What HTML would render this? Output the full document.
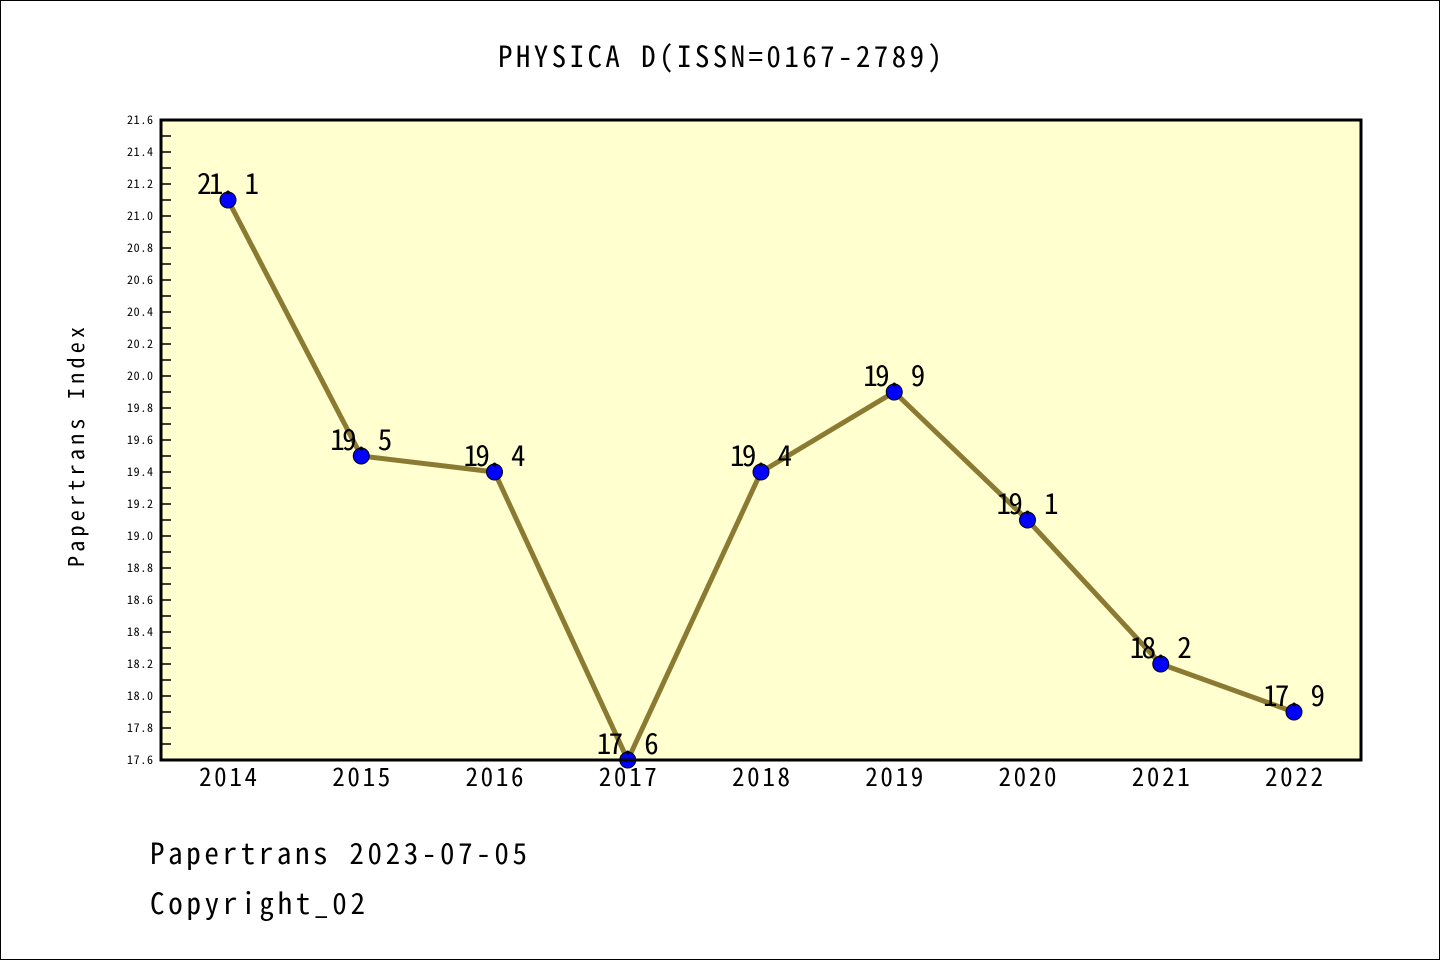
<!DOCTYPE html>
<html><head><meta charset="utf-8"><style>
body{margin:0;background:#fff}
svg{display:block}
text{font-family:"WenQuanYi Zen Hei Mono","WenQuanYi Zen Hei","Noto Sans Mono CJK SC","DejaVu Sans Mono",monospace}
</style></head><body>
<svg id="c" width="1440" height="960" xmlns="http://www.w3.org/2000/svg">
<rect x="0.5" y="0.5" width="1439" height="959" fill="#fff" stroke="#000"/>
<text x="720" y="67" text-anchor="middle" font-size="29" textLength="444">PHYSICA D(ISSN=0167-2789)</text>
<rect x="161" y="120" width="1200" height="640" fill="#ffffd0"/>
<g id="g"></g>
<rect x="161" y="120" width="1200" height="640" fill="none" stroke="#000" stroke-width="3"/>
<text x="84" y="447" text-anchor="middle" font-size="22" textLength="240" transform="rotate(-90 84 447)">Papertrans Index</text>
<text x="150" y="864" font-size="29" textLength="377">Papertrans 2023-07-05</text>
<text x="150" y="914" font-size="29" textLength="215">Copyright_02</text>
</svg>
<script>
const years=["2014","2015","2016","2017","2018","2019","2020","2021","2022"];
const values=[21.1,19.5,19.4,17.6,19.4,19.9,19.1,18.2,17.9];
const labels=["21. 1","19. 5","19. 4","17. 6","19. 4","19. 9","19. 1","18. 2","17. 9"];
const yMin=17.6,yMax=21.6;
const X=i=>228+i*(1294-228)/8;
const Y=v=>760-(v-yMin)/(yMax-yMin)*640;
const g=document.getElementById('g');
const NS='http://www.w3.org/2000/svg';
function mk(t,a){const e=document.createElementNS(NS,t);for(const k in a)e.setAttribute(k,a[k]);g.appendChild(e);return e;}
for(let k=0;k<=40;k++){const v=yMin+k*0.1;const y=Y(v);const major=k%2==0;
 const t=mk('line',{x1:161,x2:171,y1:y,y2:y,stroke:'#000','stroke-width':1.5});
 
 
 if(major){const l=mk('text',{x:153,y:y+4,'text-anchor':'end','font-size':12,textLength:26});l.textContent=v.toFixed(1);
 
 }}
years.forEach((yr,i)=>{const l=mk('text',{x:X(i),y:786,'text-anchor':'middle','font-size':25,textLength:58});l.textContent=yr;
 
 });
const line=mk('polyline',{points:values.map((v,i)=>X(i)+','+Y(v)).join(' '),fill:'none',stroke:'#8b7a32','stroke-width':5});


values.forEach((v,i)=>{const c=mk('circle',{cx:X(i),cy:Y(v),r:8,fill:'#0000ff',stroke:'#000','stroke-width':1});
 
 
 const t=mk('text',{x:X(i),y:Y(v)-6,'text-anchor':'middle','font-size':29,textLength:62});t.textContent=labels[i];
 
 });
</script>
</body></html>
